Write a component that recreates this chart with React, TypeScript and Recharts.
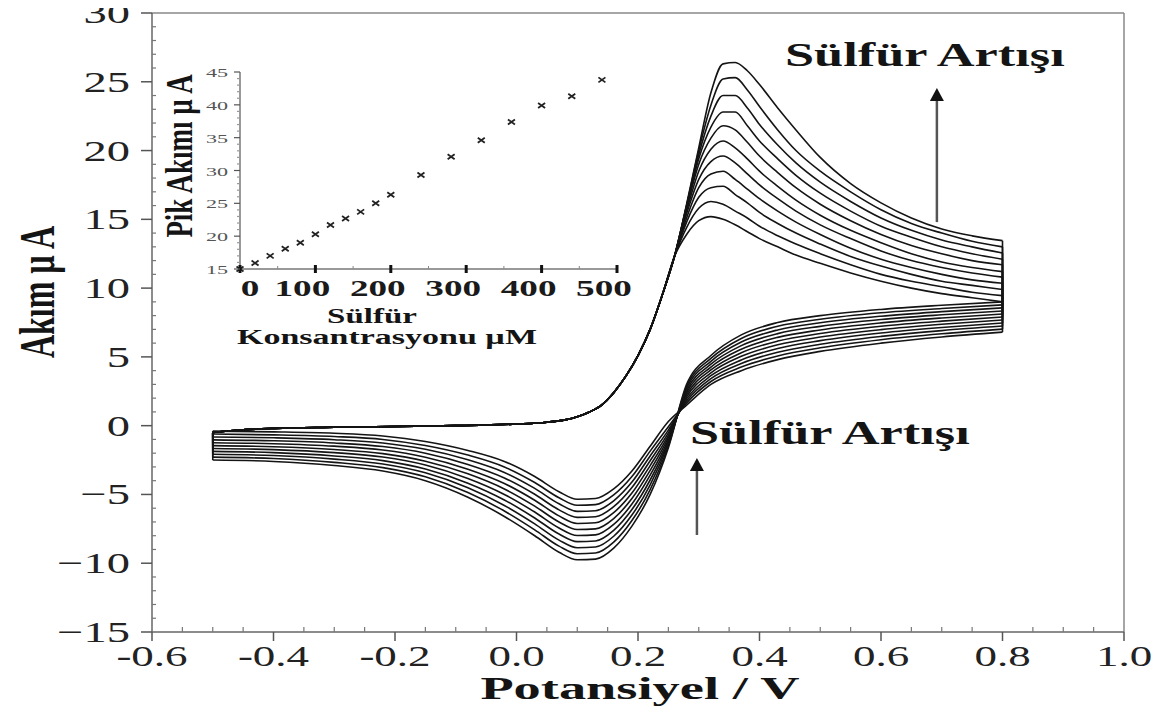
import {
  Line,
  LineChart,
  ReferenceLine,
  Scatter,
  ScatterChart,
  XAxis,
  YAxis,
} from "recharts";

const SERIF = '"Liberation Serif", "Times New Roman", serif';
const INK = "#141414";

// forward scan, shared part (all curves overlap here)
const forwardBaseV = [-0.5, -0.45, -0.4, -0.3, -0.2, -0.1, 0, 0.05, 0.08, 0.1, 0.12, 0.14, 0.16, 0.18, 0.2, 0.22, 0.24, 0.26];
const forwardBaseI = [-0.5, -0.3, -0.2, -0.12, -0.06, 0, 0.12, 0.25, 0.42, 0.65, 1.0, 1.5, 2.4, 3.6, 5.1, 7.0, 9.5, 12.3];

// forward scan, peak and tail (one row per sulfide addition)
const forwardTailV = [0.28, 0.3, 0.32, 0.34, 0.36, 0.38, 0.4, 0.43, 0.46, 0.5, 0.55, 0.6, 0.65, 0.7, 0.75, 0.8];
const fwd0 = [13.9, 14.9, 15.2, 15.0, 14.6, 14.1, 13.6, 13.0, 12.4, 11.8, 11.1, 10.5, 10.0, 9.6, 9.3, 9.0];
const fwd1 = [14.4, 15.8, 16.3, 16.1, 15.6, 15.1, 14.5, 13.8, 13.2, 12.5, 11.7, 11.0, 10.5, 10.1, 9.7, 9.45];
const fwd2 = [14.8, 16.6, 17.3, 17.4, 16.8, 16.2, 15.5, 14.7, 14.0, 13.2, 12.3, 11.6, 11.0, 10.5, 10.2, 9.9];
const fwd3 = [15.1, 17.3, 18.3, 18.5, 17.9, 17.2, 16.5, 15.6, 14.8, 13.9, 12.9, 12.1, 11.5, 11.0, 10.6, 10.35];
const fwd4 = [15.4, 17.9, 19.2, 19.6, 19.1, 18.3, 17.5, 16.5, 15.6, 14.6, 13.6, 12.7, 12.0, 11.5, 11.1, 10.8];
const fwd5 = [15.6, 18.5, 20.1, 20.7, 20.2, 19.4, 18.5, 17.4, 16.4, 15.3, 14.2, 13.3, 12.5, 11.9, 11.5, 11.2];
const fwd6 = [15.8, 19.0, 20.9, 21.8, 21.5, 20.6, 19.6, 18.4, 17.3, 16.1, 14.9, 13.9, 13.1, 12.5, 12.0, 11.7];
const fwd7 = [15.9, 19.4, 21.7, 22.8, 22.8, 21.8, 20.7, 19.4, 18.2, 16.9, 15.6, 14.5, 13.7, 13.0, 12.5, 12.1];
const fwd8 = [16.0, 19.7, 22.5, 24.0, 24.0, 23.1, 21.9, 20.4, 19.1, 17.7, 16.3, 15.1, 14.2, 13.5, 13.0, 12.55];
const fwd9 = [16.0, 20.0, 23.3, 25.2, 25.3, 24.4, 23.2, 21.5, 20.0, 18.5, 17.0, 15.7, 14.7, 14.0, 13.4, 13.0];
const fwd10 = [16.1, 20.2, 24.2, 26.3, 26.4, 25.8, 24.8, 23.1, 21.5, 19.5, 17.6, 16.2, 15.1, 14.3, 13.8, 13.45];

// reverse scan (listed by increasing potential)
const reverseV = [-0.5, -0.4, -0.3, -0.22, -0.15, -0.08, -0.02, 0.03, 0.07, 0.1, 0.13, 0.16, 0.19, 0.22, 0.25, 0.28, 0.32, 0.37, 0.43, 0.5, 0.6, 0.7, 0.8];
const rev0 = [-0.4, -0.45, -0.55, -0.75, -1.15, -1.8, -2.6, -3.7, -4.8, -5.35, -5.3, -4.6, -3.3, -1.5, 0.3, 1.5, 3.0, 4.0, 4.8, 5.4, 6.0, 6.45, 6.8];
const rev1 = [-0.61, -0.67, -0.79, -1.0, -1.44, -2.14, -3.0, -4.13, -5.24, -5.79, -5.74, -5.03, -3.7, -1.85, -0.08, 1.65, 3.21, 4.26, 5.07, 5.66, 6.25, 6.68, 7.02];
const rev2 = [-0.82, -0.88, -1.02, -1.26, -1.72, -2.48, -3.4, -4.56, -5.68, -6.23, -6.18, -5.46, -4.1, -2.2, -0.32, 1.8, 3.42, 4.52, 5.34, 5.92, 6.49, 6.91, 7.24];
const rev3 = [-1.03, -1.1, -1.26, -1.52, -2.0, -2.82, -3.8, -4.99, -6.12, -6.67, -6.62, -5.89, -4.5, -2.55, -0.52, 1.95, 3.63, 4.78, 5.61, 6.18, 6.74, 7.14, 7.46];
const rev4 = [-1.24, -1.31, -1.49, -1.77, -2.29, -3.16, -4.2, -5.42, -6.56, -7.11, -7.06, -6.32, -4.9, -2.9, -0.7, 2.1, 3.84, 5.04, 5.88, 6.44, 6.98, 7.37, 7.68];
const rev5 = [-1.45, -1.53, -1.73, -2.03, -2.58, -3.5, -4.6, -5.85, -7.0, -7.55, -7.5, -6.75, -5.3, -3.25, -0.87, 2.25, 4.05, 5.3, 6.15, 6.7, 7.23, 7.6, 7.9];
const rev6 = [-1.66, -1.74, -1.96, -2.28, -2.86, -3.84, -5.0, -6.28, -7.44, -7.99, -7.94, -7.18, -5.7, -3.6, -1.03, 2.4, 4.26, 5.56, 6.42, 6.96, 7.47, 7.83, 8.12];
const rev7 = [-1.87, -1.96, -2.2, -2.54, -3.15, -4.18, -5.4, -6.71, -7.88, -8.43, -8.38, -7.61, -6.1, -3.95, -1.18, 2.55, 4.47, 5.82, 6.69, 7.22, 7.72, 8.06, 8.34];
const rev8 = [-2.08, -2.17, -2.43, -2.79, -3.43, -4.52, -5.8, -7.14, -8.32, -8.87, -8.82, -8.04, -6.5, -4.3, -1.32, 2.7, 4.68, 6.08, 6.96, 7.48, 7.96, 8.29, 8.56];
const rev9 = [-2.29, -2.39, -2.67, -3.05, -3.72, -4.86, -6.2, -7.57, -8.76, -9.31, -9.26, -8.47, -6.9, -4.65, -1.46, 2.85, 4.89, 6.34, 7.23, 7.74, 8.21, 8.52, 8.78];
const rev10 = [-2.5, -2.6, -2.9, -3.3, -4.0, -5.2, -6.6, -8.0, -9.2, -9.75, -9.7, -8.9, -7.3, -5.0, -1.6, 3.0, 5.1, 6.6, 7.5, 8.0, 8.45, 8.75, 9.0];

const forwardTails = [fwd0, fwd1, fwd2, fwd3, fwd4, fwd5, fwd6, fwd7, fwd8, fwd9, fwd10];
const reverses = [rev0, rev1, rev2, rev3, rev4, rev5, rev6, rev7, rev8, rev9, rev10];

// main axes
const xMajorLabels = [-0.6, -0.4, -0.2, 0, 0.2, 0.4, 0.6, 0.8, 1.0];
const yMajorLabels = [-15, -10, -5, 0, 5, 10, 15, 20, 25, 30];
const xTicks = Array.from({ length: 33 }, (_, k) => +(-0.6 + k * 0.05).toFixed(2));
const yTicks = Array.from({ length: 46 }, (_, k) => -15 + k);

// inset: peak current vs sulfide concentration
const insetConc = [0, 20, 40, 60, 80, 100, 120, 140, 160, 180, 200, 240, 280, 320, 360, 400, 440, 480];
const insetPeak = [15.0, 15.9, 17.0, 18.1, 19.0, 20.3, 21.7, 22.7, 23.7, 25.0, 26.3, 29.3, 32.1, 34.6, 37.4, 39.9, 41.3, 43.8];
const insetXLabels = [0, 100, 200, 300, 400, 500];
const insetYLabels = [15, 20, 25, 30, 35, 40, 45];
const insetXTicks = Array.from({ length: 11 }, (_, k) => k * 50);
const insetYTicks = Array.from({ length: 31 }, (_, k) => 15 + k);

const forwardSeries = forwardTails.map((tail) => [
  ...forwardBaseV.map((v, k) => ({ x: v, y: forwardBaseI[k] })),
  ...forwardTailV.map((v, k) => ({ x: v, y: tail[k] })),
]);
const reverseSeries = reverses.map((r) => reverseV.map((v, k) => ({ x: v, y: r[k] })));
const rightTurns = forwardTails.map((tail, i) => [
  { x: 0.8, y: tail[tail.length - 1] },
  { x: 0.8, y: reverses[i][reverses[i].length - 1] },
]);
const leftTurns = reverses.map((r) => [
  { x: -0.5, y: r[0] },
  { x: -0.5, y: forwardBaseI[0] },
]);
const insetPoints = insetConc.map((c, k) => ({ c, p: insetPeak[k] }));

const isIn = (list: number[], v: number) => list.some((m) => Math.abs(m - v) < 1e-6);

function MainXTick(props: any) {
  const { x, y, payload } = props;
  const v = payload.value as number;
  const major = isIn(xMajorLabels, v);
  return (
    <g transform={`translate(${x},${y})`}>
      {major ? (
        <line x1={0} y1={0} x2={0} y2={9} stroke="#555" strokeWidth={1.5} />
      ) : (
        <line x1={0} y1={0} x2={0} y2={-5} stroke="#777" strokeWidth={1.2} />
      )}
      {major && (
        <text
          transform="translate(0,34) scale(1.5,1)"
          textAnchor="middle"
          fontFamily={SERIF}
          fontSize={30}
          fill="#222"
        >
          {v.toFixed(1)}
        </text>
      )}
    </g>
  );
}

function MainYTick(props: any) {
  const { x, y, payload } = props;
  const v = payload.value as number;
  const major = isIn(yMajorLabels, v);
  return (
    <g transform={`translate(${x},${y})`}>
      {major ? (
        <line x1={0} y1={0} x2={-11} y2={0} stroke="#555" strokeWidth={1.5} />
      ) : (
        <line x1={0} y1={0} x2={4} y2={0} stroke="#777" strokeWidth={1.2} />
      )}
      {major && (
        <text
          transform="translate(-22,10) scale(1.55,1)"
          textAnchor="end"
          fontFamily={SERIF}
          fontSize={30}
          fill="#222"
        >
          {v < 0 ? `\u2212${-v}` : v}
        </text>
      )}
    </g>
  );
}

function InsetXTick(props: any) {
  const { x, y, payload } = props;
  const v = payload.value as number;
  const major = isIn(insetXLabels, v);
  return (
    <g transform={`translate(${x},${y})`}>
      {major ? (
        <line x1={0} y1={-4} x2={0} y2={4} stroke="#111" strokeWidth={3} />
      ) : (
        <line x1={0} y1={0} x2={0} y2={-3} stroke="#888" strokeWidth={1} />
      )}
      {major && (
        <text
          transform={`translate(${v === 0 ? 10 : -13},27) scale(1.55,1)`}
          textAnchor="middle"
          fontFamily={SERIF}
          fontWeight="bold"
          fontSize={24}
          fill="#1a1a1a"
        >
          {v}
        </text>
      )}
    </g>
  );
}

function InsetYTick(props: any) {
  const { x, y, payload } = props;
  const v = payload.value as number;
  const major = isIn(insetYLabels, v);
  return (
    <g transform={`translate(${x},${y})`}>
      <line x1={0} y1={0} x2={major ? -6 : -3} y2={0} stroke={major ? "#555" : "#999"} strokeWidth={1.2} />
      {major && (
        <text
          transform="translate(-12,5) scale(1.7,1)"
          textAnchor="end"
          fontFamily={SERIF}
          fontSize={13}
          fill="#555"
        >
          {v}
        </text>
      )}
    </g>
  );
}

function XMark(props: any) {
  const { cx, cy } = props;
  return (
    <path
      d={`M${cx - 3.5},${cy - 2.5}L${cx + 3.5},${cy + 2.5}M${cx - 3.5},${cy + 2.5}L${cx + 3.5},${cy - 2.5}`}
      stroke="#222"
      strokeWidth={1.8}
    />
  );
}

function Arrow(props: any) {
  const { x1, y1, x2, y2 } = props;
  return (
    <g>
      <line x1={x1} y1={y1} x2={x2} y2={y2 + 10} stroke="#555" strokeWidth={2.5} />
      <polygon points={`${x2},${y2} ${x2 - 7},${y2 + 13} ${x2 + 7},${y2 + 13}`} fill="#111" />
    </g>
  );
}

function StretchText({ x, y, sx = 1, size, anchor = "start", children }: any) {
  return (
    <text
      transform={`translate(${x},${y}) scale(${sx},1)`}
      textAnchor={anchor}
      fontFamily={SERIF}
      fontWeight="bold"
      fontSize={size}
      fill={INK}
    >
      {children}
    </text>
  );
}

const lineProps = {
  dataKey: "y",
  stroke: INK,
  strokeWidth: 1.6,
  dot: false,
  activeDot: false,
  isAnimationActive: false,
} as const;

export default function App() {
  return (
    <div style={{ position: "relative", width: 1168, height: 709, margin: "-8px 0 0 -8px", background: "#fff" }}>
      <LineChart width={1168} height={709} margin={{ top: 13, right: 44, bottom: 0, left: 0 }}>
        <XAxis
          type="number"
          dataKey="x"
          domain={[-0.6, 1.0]}
          ticks={xTicks}
          interval={0}
          height={77}
          tickSize={0}
          tickMargin={0}
          tickLine={false}
          tick={(p: any) => <MainXTick {...p} />}
          axisLine={{ stroke: "#666", strokeWidth: 1.5 }}
          allowDataOverflow
        />
        <YAxis
          type="number"
          dataKey="y"
          domain={[-15, 30]}
          ticks={yTicks}
          interval={0}
          width={152}
          tickSize={0}
          tickMargin={0}
          tickLine={false}
          tick={(p: any) => <MainYTick {...p} />}
          axisLine={{ stroke: "#666", strokeWidth: 1.5 }}
          allowDataOverflow
        />
        <ReferenceLine y={30} stroke="#888" strokeWidth={1.5} />
        <ReferenceLine x={1.0} stroke="#888" strokeWidth={1.5} />
        {forwardSeries.map((d, i) => (
          <Line key={`f${i}`} data={d} type="monotone" {...lineProps} />
        ))}
        {reverseSeries.map((d, i) => (
          <Line key={`r${i}`} data={d} type="monotone" {...lineProps} />
        ))}
        {rightTurns.map((d, i) => (
          <Line key={`rt${i}`} data={d} type="linear" {...lineProps} />
        ))}
        {leftTurns.map((d, i) => (
          <Line key={`lt${i}`} data={d} type="linear" {...lineProps} />
        ))}
        <ReferenceLine segment={[{ x: 0.692, y: 14.8 }, { x: 0.692, y: 24.55 }]} shape={(p: any) => <Arrow {...p} />} />
        <ReferenceLine segment={[{ x: 0.297, y: -7.95 }, { x: 0.297, y: -2.35 }]} shape={(p: any) => <Arrow {...p} />} />
      </LineChart>

      <div style={{ position: "absolute", left: 150, top: 55, width: 490, height: 310 }}>
        <ScatterChart width={490} height={310} margin={{ top: 17, right: 23, bottom: 0, left: 0 }}>
          <XAxis
            type="number"
            dataKey="c"
            domain={[0, 500]}
            ticks={insetXTicks}
            interval={0}
            height={96}
            tickSize={0}
            tickMargin={0}
            tickLine={false}
            tick={(p: any) => <InsetXTick {...p} />}
            axisLine={{ stroke: "#999", strokeWidth: 2 }}
          />
          <YAxis
            type="number"
            dataKey="p"
            domain={[15, 45]}
            ticks={insetYTicks}
            interval={0}
            width={90}
            tickSize={0}
            tickMargin={0}
            tickLine={false}
            tick={(p: any) => <InsetYTick {...p} />}
            axisLine={{ stroke: "#999", strokeWidth: 2 }}
          />
          <Scatter data={insetPoints} dataKey="p" shape={(p: any) => <XMark {...p} />} isAnimationActive={false} />
        </ScatterChart>
      </div>

      <svg
        width={1168}
        height={709}
        style={{ position: "absolute", left: 0, top: 0, pointerEvents: "none" }}
      >
        <text
          transform="translate(54,292) rotate(-90) scale(1,1.6)"
          textAnchor="middle"
          fontFamily={SERIF}
          fontWeight="bold"
          fontSize={32}
          fill={INK}
        >
          Akım µ A
        </text>
        <text
          transform="translate(192,156) rotate(-90) scale(1,1.4)"
          textAnchor="middle"
          fontFamily={SERIF}
          fontWeight="bold"
          fontSize={27}
          fill={INK}
        >
          Pik Akımı µ A
        </text>
        <StretchText x={372} y={323} sx={1.65} size={20} anchor="middle">Sülfür</StretchText>
        <StretchText x={387} y={344} sx={1.7} size={20} anchor="middle">Konsantrasyonu µM</StretchText>
        <StretchText x={640} y={699} sx={1.7} size={32} anchor="middle">Potansiyel / V</StretchText>
        <StretchText x={785} y={66} sx={1.54} size={34}>Sülfür Artışı</StretchText>
        <StretchText x={690} y={444} sx={1.54} size={34}>Sülfür Artışı</StretchText>
      </svg>
    </div>
  );
}
